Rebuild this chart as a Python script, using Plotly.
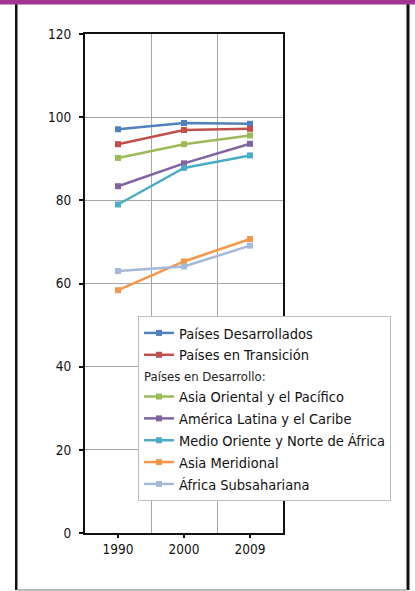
import plotly.graph_objects as go

years = ["1990", "2000", "2009"]
series_names = [
    "Países Desarrollados",
    "Países en Transición",
    "Asia Oriental y el Pacífico",
    "América Latina y el Caribe",
    "Medio Oriente y Norte de África",
    "Asia Meridional",
    "África Subsahariana",
]
desarrollados = [97.1, 98.6, 98.4]
transicion = [93.5, 96.9, 97.2]
asia_oriental = [90.2, 93.5, 95.6]
america_latina = [83.4, 88.9, 93.6]
medio_oriente = [79.0, 87.8, 90.8]
asia_meridional = [58.4, 65.3, 70.7]
africa_sub = [63.0, 64.1, 69.1]
series_values = [desarrollados, transicion, asia_oriental, america_latina,
                 medio_oriente, asia_meridional, africa_sub]
colors = ["#4F81BD", "#C0504D", "#9BBB59", "#8064A2", "#4BACC6", "#F79646", "#A5B8D8"]
group_title = "Países en Desarrollo:"
y_ticks = [0, 20, 40, 60, 80, 100, 120]

W, H = 415, 591
L, R, T, B = 85, 283, 34, 533

def px(xp):
    return (xp - L) / (R - L)

def py(yp):
    return (B - yp) / (B - T)

FONT = "DejaVu Sans Condensed"

xs = list(range(len(years)))
fig = go.Figure()
for i, (name, vals, col) in enumerate(zip(series_names, series_values, colors)):
    if i >= 2:
        kw = dict(legendgroup="dev", legendgrouptitle=dict(text=group_title,
                  font=dict(size=13, color="#222", family=FONT)))
    else:
        kw = dict(legendgroup="g%d" % i)
    fig.add_trace(go.Scatter(
        x=xs, y=vals, name=name, mode="lines+markers",
        line=dict(color=col, width=2.5),
        marker=dict(symbol="square", size=6, color=col),
        **kw))

shapes = [
    # left frame edge
    dict(type="rect", xref="paper", yref="paper", x0=px(15), x1=px(17.5), y0=py(590), y1=py(4),
         fillcolor="#111111", line=dict(width=0), layer="above"),
    # right frame edge
    dict(type="rect", xref="paper", yref="paper", x0=px(406.5), x1=px(409.5), y0=py(590), y1=py(4),
         fillcolor="#111111", line=dict(width=0), layer="above"),
    # gray bottom edge
    dict(type="rect", xref="paper", yref="paper", x0=px(17.5), x1=px(406.5), y0=py(591), y1=py(589),
         fillcolor="#bbbbbb", line=dict(width=0), layer="above"),
    # purple top bar
    dict(type="rect", xref="paper", yref="paper", x0=px(0), x1=px(W), y0=py(4.5), y1=py(0),
         fillcolor="#A03592", line=dict(width=0), layer="above"),
]

fig.update_layout(
    width=W, height=H,
    margin=dict(l=L, r=W - R, t=T, b=H - B, pad=0, autoexpand=False),
    paper_bgcolor="white", plot_bgcolor="white",
    font=dict(family=FONT, size=14, color="#111"),
    showlegend=True,
    legend=dict(
        x=px(138), y=py(316), xanchor="left", yanchor="top",
        bgcolor="white", bordercolor="#bdbdbd", borderwidth=1,
        font=dict(size=14.5, family=FONT, color="#111"),
        traceorder="grouped", tracegroupgap=0, itemwidth=30,
    ),
    shapes=shapes,
    xaxis=dict(
        range=[-0.5, len(years) - 0.5],
        tickmode="array", tickvals=xs, ticktext=years,
        ticks="outside", ticklen=3, tickcolor="#111", tickwidth=1.5,
        showgrid=False, zeroline=False, automargin=False,
        showline=True, linecolor="#111", linewidth=2, mirror=True,
        minor=dict(tickmode="array", tickvals=[x + 0.5 for x in xs[:-1]],
                   showgrid=True, gridcolor="#a6a6a6", gridwidth=1.2, ticks=""),
        tickfont=dict(size=13.5, family=FONT),
        fixedrange=True,
    ),
    yaxis=dict(
        range=[0, 120], tickmode="array", tickvals=y_ticks,
        ticks="outside", ticklen=4, tickcolor="#111", tickwidth=1.5,
        ticklabelstandoff=5, automargin=False,
        showgrid=True, gridcolor="#a6a6a6", gridwidth=1.2, zeroline=False,
        showline=True, linecolor="#111", linewidth=2, mirror=True,
        tickfont=dict(size=13.5, family=FONT),
        fixedrange=True,
    ),
)

fig.write_html(
    "out.html",
    config={"displayModeBar": False},
    post_script="document.body.style.margin='0';document.body.style.overflow='hidden';",
)
